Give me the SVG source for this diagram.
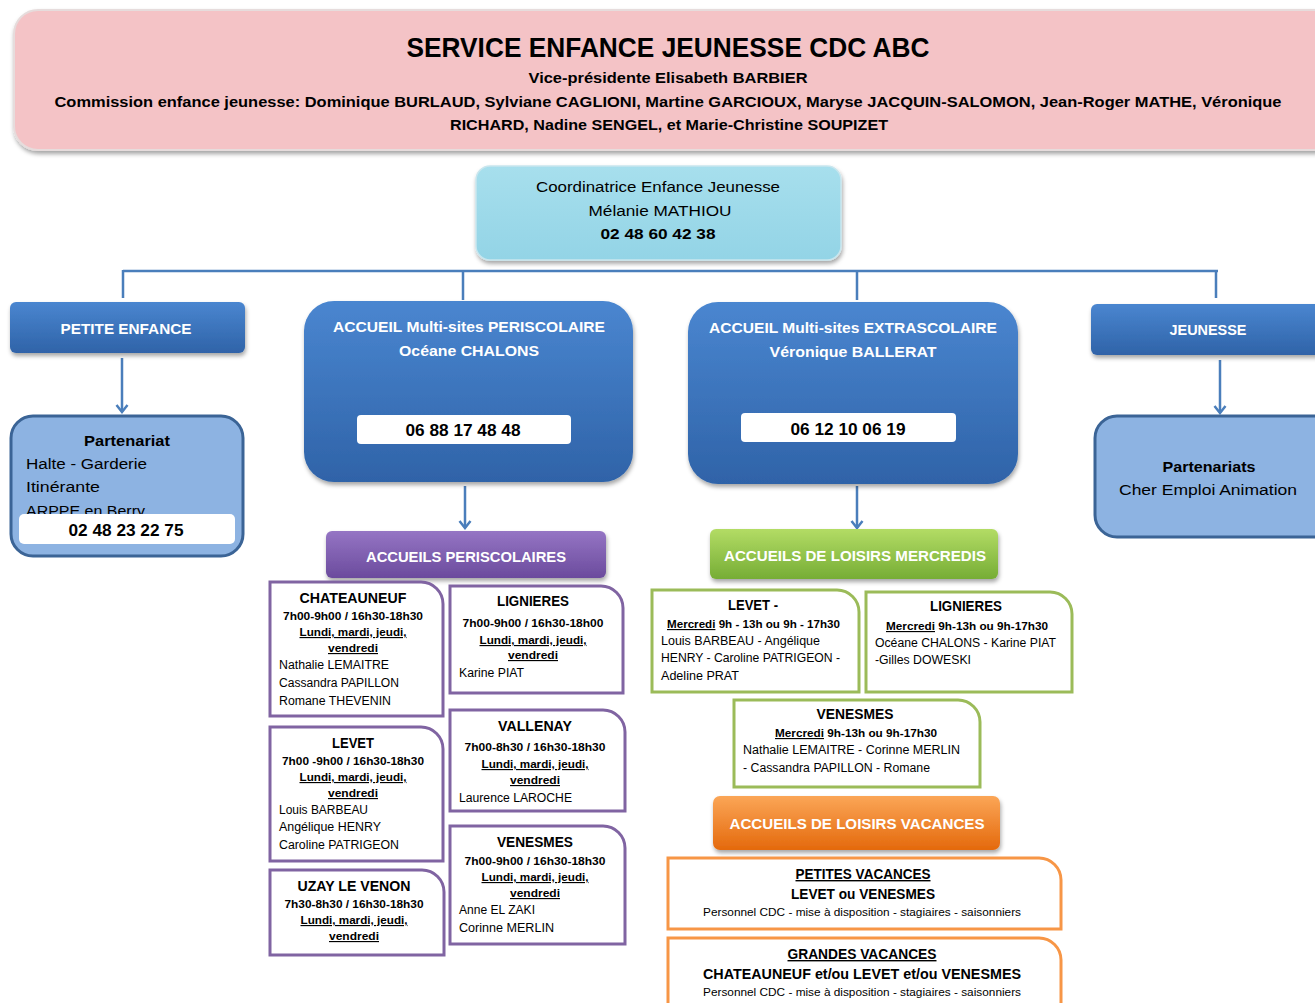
<svg xmlns="http://www.w3.org/2000/svg" width="1315" height="1003" viewBox="0 0 1315 1003">
<defs>
<style>
text{font-family:"Liberation Sans",Arial,sans-serif;fill:#000}
.b{font-weight:bold}
.w{fill:#fff;font-weight:bold}
.c{text-anchor:middle}
.u{text-decoration:underline}
.con{stroke:#4a7ebb;stroke-width:2.5;fill:none}
.pur{fill:#fff;stroke:#8064a2;stroke-width:3}
.grn{fill:#fff;stroke:#9bbb59;stroke-width:3}
.org{fill:#fff;stroke:#f79646;stroke-width:3}
.part{fill:#8db3e2;stroke:#3b6496;stroke-width:3}
.wb{fill:#fff}
</style>
<linearGradient id="gBlue" x1="0" y1="0" x2="0" y2="1">
<stop offset="0" stop-color="#4a86d0"/><stop offset="1" stop-color="#2f63a8"/>
</linearGradient>
<linearGradient id="gPur" x1="0" y1="0" x2="0" y2="1">
<stop offset="0" stop-color="#9575c4"/><stop offset="1" stop-color="#6b4b9d"/>
</linearGradient>
<linearGradient id="gGrn" x1="0" y1="0" x2="0" y2="1">
<stop offset="0" stop-color="#b3dc65"/><stop offset="1" stop-color="#76ad35"/>
</linearGradient>
<linearGradient id="gOrg" x1="0" y1="0" x2="0" y2="1">
<stop offset="0" stop-color="#fba657"/><stop offset="1" stop-color="#e4690c"/>
</linearGradient>
<linearGradient id="gCyan" x1="0" y1="0" x2="0" y2="1">
<stop offset="0" stop-color="#a7dfed"/><stop offset="1" stop-color="#93d4e6"/>
</linearGradient>
<filter id="sh" x="-10%" y="-10%" width="120%" height="130%">
<feDropShadow dx="1" dy="3" stdDeviation="2" flood-color="#000" flood-opacity="0.35"/>
</filter>
<marker id="ar" viewBox="0 0 12 14" refX="10" refY="7" markerWidth="12" markerHeight="14" markerUnits="userSpaceOnUse" orient="auto">
<path d="M3,1.5 L10,7 L3,12.5" fill="none" stroke="#4a7ebb" stroke-width="2.5"/>
</marker>
</defs>
<rect width="1315" height="1003" fill="#fff"/>

<g id="header">
<rect x="14" y="10" width="1330" height="140" rx="24" fill="#f4c3c6" stroke="#e6dcdc" stroke-width="2" filter="url(#sh)"/>
<text class="b c" x="668" y="57" font-size="28" textLength="523" lengthAdjust="spacingAndGlyphs">SERVICE ENFANCE JEUNESSE  CDC ABC</text>
<text class="b c" x="668" y="83" font-size="15.5" textLength="279" lengthAdjust="spacingAndGlyphs">Vice-présidente  Elisabeth  BARBIER</text>
<text class="b c" x="668" y="107" font-size="15.5" textLength="1227" lengthAdjust="spacingAndGlyphs">Commission  enfance jeunesse: Dominique  BURLAUD, Sylviane CAGLIONI, Martine  GARCIOUX, Maryse  JACQUIN-SALOMON, Jean-Roger  MATHE,  Véronique</text>
<text class="b c" x="669" y="130" font-size="15.5" textLength="438" lengthAdjust="spacingAndGlyphs">RICHARD, Nadine  SENGEL,  et  Marie-Christine  SOUPIZET</text>
</g>

<g id="connectors">
<path class="con" d="M123,271 H1218 M123,270 V298 M463,270 V300 M857,270 V300 M1216,270 V298"/>
<line class="con" x1="122" y1="358" x2="122" y2="412" marker-end="url(#ar)"/>
<line class="con" x1="1220" y1="360" x2="1220" y2="413" marker-end="url(#ar)"/>
<line class="con" x1="465" y1="486" x2="465" y2="528" marker-end="url(#ar)"/>
<line class="con" x1="857" y1="486" x2="857" y2="528" marker-end="url(#ar)"/>
</g>

<g id="coordinatrice">
<rect x="476" y="166" width="365" height="94" rx="14" fill="url(#gCyan)" stroke="#c9e6ee" stroke-width="1.5" filter="url(#sh)"/>
<text class="c" x="658" y="192" font-size="15.5" textLength="244" lengthAdjust="spacingAndGlyphs">Coordinatrice  Enfance Jeunesse</text>
<text class="c" x="660" y="216" font-size="15.5" textLength="143" lengthAdjust="spacingAndGlyphs">Mélanie MATHIOU</text>
<text class="b c" x="658" y="239" font-size="15.5" textLength="115" lengthAdjust="spacingAndGlyphs">02 48 60 42 38</text>
</g>

<g id="petite-enfance">
<rect x="10" y="302" width="235" height="51" rx="6" fill="url(#gBlue)" filter="url(#sh)"/>
<text class="w c" x="126" y="334" font-size="15" textLength="131" lengthAdjust="spacingAndGlyphs">PETITE  ENFANCE</text>
</g>

<g id="partenariat">
<rect class="part" x="11" y="416" width="232" height="140" rx="22"/>
<text class="b c" x="127" y="446" font-size="15.5" textLength="86" lengthAdjust="spacingAndGlyphs">Partenariat</text>
<text x="26" y="469" font-size="15.5" textLength="121" lengthAdjust="spacingAndGlyphs">Halte - Garderie</text>
<text x="26" y="492" font-size="15.5" textLength="74" lengthAdjust="spacingAndGlyphs">Itinérante</text>
<text x="26" y="516" font-size="15.5" textLength="119" lengthAdjust="spacingAndGlyphs">ARPPE en Berry</text>
<rect class="wb" x="19" y="514" width="216" height="30" rx="5"/>
<text class="b c" x="126" y="536" font-size="16" textLength="115" lengthAdjust="spacingAndGlyphs">02 48 23 22 75</text>
</g>

<g id="periscolaire">
<rect x="304" y="301" width="329" height="181" rx="30" fill="url(#gBlue)" filter="url(#sh)"/>
<text class="w c" x="469" y="332" font-size="15" textLength="272" lengthAdjust="spacingAndGlyphs">ACCUEIL Multi-sites  PERISCOLAIRE</text>
<text class="w c" x="469" y="356" font-size="15" textLength="140" lengthAdjust="spacingAndGlyphs">Océane  CHALONS</text>
<rect class="wb" x="357" y="415" width="214" height="29" rx="4"/>
<text class="b c" x="463" y="436" font-size="16" textLength="115" lengthAdjust="spacingAndGlyphs">06 88 17 48 48</text>
</g>

<g id="extrascolaire">
<rect x="688" y="302" width="330" height="182" rx="30" fill="url(#gBlue)" filter="url(#sh)"/>
<text class="w c" x="853" y="333" font-size="15" textLength="288" lengthAdjust="spacingAndGlyphs">ACCUEIL Multi-sites  EXTRASCOLAIRE</text>
<text class="w c" x="853" y="357" font-size="15" textLength="167" lengthAdjust="spacingAndGlyphs">Véronique  BALLERAT</text>
<rect class="wb" x="741" y="413" width="215" height="29" rx="4"/>
<text class="b c" x="848" y="435" font-size="16" textLength="115" lengthAdjust="spacingAndGlyphs">06 12 10 06 19</text>
</g>

<g id="jeunesse">
<rect x="1091" y="304" width="240" height="51" rx="6" fill="url(#gBlue)" filter="url(#sh)"/>
<text class="w c" x="1208" y="335" font-size="15" textLength="77" lengthAdjust="spacingAndGlyphs">JEUNESSE</text>
</g>

<g id="partenariats">
<rect class="part" x="1095" y="416" width="240" height="121" rx="22"/>
<text class="b c" x="1209" y="472" font-size="15.5" textLength="93" lengthAdjust="spacingAndGlyphs">Partenariats</text>
<text class="c" x="1208" y="495" font-size="15.5" textLength="178" lengthAdjust="spacingAndGlyphs">Cher Emploi Animation</text>
</g>

<g id="accueils-periscolaires">
<rect x="326" y="531" width="280" height="47" rx="6" fill="url(#gPur)" filter="url(#sh)"/>
<text class="w c" x="466" y="562" font-size="15" textLength="200" lengthAdjust="spacingAndGlyphs">ACCUEILS PERISCOLAIRES</text>
</g>

<g id="accueils-mercredis">
<rect x="710" y="529" width="288" height="50" rx="6" fill="url(#gGrn)" filter="url(#sh)"/>
<text class="w c" x="855" y="561" font-size="15" textLength="262" lengthAdjust="spacingAndGlyphs">ACCUEILS DE LOISIRS MERCREDIS</text>
</g>

<g id="peri-chateauneuf">
<path class="pur" d="M270,582 H421 A22,22 0 0 1 443,604 V716 H270 Z"/>
<text class="b c" x="353" y="603" font-size="14" textLength="107" lengthAdjust="spacingAndGlyphs">CHATEAUNEUF</text>
<text class="b c" x="353" y="620" font-size="11.5" textLength="140" lengthAdjust="spacingAndGlyphs">7h00-9h00  /  16h30-18h30</text>
<text class="b c u" x="353" y="636" font-size="11.5" textLength="107" lengthAdjust="spacingAndGlyphs">Lundi, mardi, jeudi,</text>
<text class="b c u" x="353" y="652" font-size="11.5" textLength="50" lengthAdjust="spacingAndGlyphs">vendredi</text>
<text x="279" y="669" font-size="12" textLength="110" lengthAdjust="spacingAndGlyphs">Nathalie LEMAITRE</text>
<text x="279" y="687" font-size="12" textLength="120" lengthAdjust="spacingAndGlyphs">Cassandra PAPILLON</text>
<text x="279" y="705" font-size="12" textLength="112" lengthAdjust="spacingAndGlyphs">Romane THEVENIN</text>
</g>

<g id="peri-lignieres">
<path class="pur" d="M450,586 H601 A22,22 0 0 1 623,608 V693 H450 Z"/>
<text class="b c" x="533" y="606" font-size="14" textLength="72" lengthAdjust="spacingAndGlyphs">LIGNIERES</text>
<text class="b c" x="533" y="627" font-size="11.5" textLength="141" lengthAdjust="spacingAndGlyphs">7h00-9h00  /  16h30-18h00</text>
<text class="b c u" x="533" y="644" font-size="11.5" textLength="107" lengthAdjust="spacingAndGlyphs">Lundi, mardi, jeudi,</text>
<text class="b c u" x="533" y="659" font-size="11.5" textLength="50" lengthAdjust="spacingAndGlyphs">vendredi</text>
<text x="459" y="677" font-size="12" textLength="65" lengthAdjust="spacingAndGlyphs">Karine PIAT</text>
</g>

<g id="peri-levet">
<path class="pur" d="M270,727 H421 A22,22 0 0 1 443,749 V861 H270 Z"/>
<text class="b c" x="353" y="748" font-size="14" textLength="42" lengthAdjust="spacingAndGlyphs">LEVET</text>
<text class="b c" x="353" y="765" font-size="11.5" textLength="142" lengthAdjust="spacingAndGlyphs">7h00 -9h00 / 16h30-18h30</text>
<text class="b c u" x="353" y="781" font-size="11.5" textLength="107" lengthAdjust="spacingAndGlyphs">Lundi, mardi, jeudi,</text>
<text class="b c u" x="353" y="797" font-size="11.5" textLength="50" lengthAdjust="spacingAndGlyphs">vendredi</text>
<text x="279" y="814" font-size="12" textLength="89" lengthAdjust="spacingAndGlyphs">Louis BARBEAU</text>
<text x="279" y="831" font-size="12" textLength="102" lengthAdjust="spacingAndGlyphs">Angélique HENRY</text>
<text x="279" y="849" font-size="12" textLength="120" lengthAdjust="spacingAndGlyphs">Caroline PATRIGEON</text>
</g>

<g id="peri-vallenay">
<path class="pur" d="M450,710 H603 A22,22 0 0 1 625,732 V811 H450 Z"/>
<text class="b c" x="535" y="731" font-size="14" textLength="74" lengthAdjust="spacingAndGlyphs">VALLENAY</text>
<text class="b c" x="535" y="751" font-size="11.5" textLength="141" lengthAdjust="spacingAndGlyphs">7h00-8h30  /  16h30-18h30</text>
<text class="b c u" x="535" y="768" font-size="11.5" textLength="107" lengthAdjust="spacingAndGlyphs">Lundi, mardi, jeudi,</text>
<text class="b c u" x="535" y="784" font-size="11.5" textLength="50" lengthAdjust="spacingAndGlyphs">vendredi</text>
<text x="459" y="802" font-size="12" textLength="113" lengthAdjust="spacingAndGlyphs">Laurence LAROCHE</text>
</g>

<g id="peri-uzay">
<path class="pur" d="M270,870 H422 A22,22 0 0 1 444,892 V955 H270 Z"/>
<text class="b c" x="354" y="891" font-size="14" textLength="113" lengthAdjust="spacingAndGlyphs">UZAY LE VENON</text>
<text class="b c" x="354" y="908" font-size="11.5" textLength="139" lengthAdjust="spacingAndGlyphs">7h30-8h30 / 16h30-18h30</text>
<text class="b c u" x="354" y="924" font-size="11.5" textLength="107" lengthAdjust="spacingAndGlyphs">Lundi, mardi, jeudi,</text>
<text class="b c u" x="354" y="940" font-size="11.5" textLength="50" lengthAdjust="spacingAndGlyphs">vendredi</text>
</g>

<g id="peri-venesmes">
<path class="pur" d="M450,826 H603 A22,22 0 0 1 625,848 V944 H450 Z"/>
<text class="b c" x="535" y="847" font-size="14" textLength="76" lengthAdjust="spacingAndGlyphs">VENESMES</text>
<text class="b c" x="535" y="865" font-size="11.5" textLength="141" lengthAdjust="spacingAndGlyphs">7h00-9h00  /  16h30-18h30</text>
<text class="b c u" x="535" y="881" font-size="11.5" textLength="107" lengthAdjust="spacingAndGlyphs">Lundi, mardi, jeudi,</text>
<text class="b c u" x="535" y="897" font-size="11.5" textLength="50" lengthAdjust="spacingAndGlyphs">vendredi</text>
<text x="459" y="914" font-size="12" textLength="76" lengthAdjust="spacingAndGlyphs">Anne EL ZAKI</text>
<text x="459" y="932" font-size="12" textLength="95" lengthAdjust="spacingAndGlyphs">Corinne MERLIN</text>
</g>

<g id="merc-levet">
<path class="grn" d="M652,590 H837 A22,22 0 0 1 859,612 V692 H652 Z"/>
<text class="b c" x="753" y="610" font-size="14" textLength="50" lengthAdjust="spacingAndGlyphs">LEVET -</text>
<text class="b" x="667" y="628" font-size="11.5" textLength="173" lengthAdjust="spacingAndGlyphs"><tspan class="u">Mercredi</tspan> 9h - 13h ou 9h - 17h30</text>
<text x="661" y="645" font-size="12" textLength="159" lengthAdjust="spacingAndGlyphs">Louis BARBEAU - Angélique</text>
<text x="661" y="662" font-size="12" textLength="179" lengthAdjust="spacingAndGlyphs">HENRY - Caroline PATRIGEON -</text>
<text x="661" y="680" font-size="12" textLength="78" lengthAdjust="spacingAndGlyphs">Adeline PRAT</text>
</g>

<g id="merc-lignieres">
<path class="grn" d="M866,592 H1050 A22,22 0 0 1 1072,614 V692 H866 Z"/>
<text class="b c" x="966" y="611" font-size="14" textLength="72" lengthAdjust="spacingAndGlyphs">LIGNIERES</text>
<text class="b" x="886" y="630" font-size="11.5" textLength="162" lengthAdjust="spacingAndGlyphs"><tspan class="u">Mercredi</tspan> 9h-13h ou 9h-17h30</text>
<text x="875" y="647" font-size="12" textLength="181" lengthAdjust="spacingAndGlyphs">Océane CHALONS - Karine PIAT</text>
<text x="875" y="664" font-size="12" textLength="96" lengthAdjust="spacingAndGlyphs">-Gilles DOWESKI</text>
</g>

<g id="merc-venesmes">
<path class="grn" d="M734,700 H958 A22,22 0 0 1 980,722 V787 H734 Z"/>
<text class="b c" x="855" y="719" font-size="14" textLength="77" lengthAdjust="spacingAndGlyphs">VENESMES</text>
<text class="b" x="775" y="737" font-size="11.5" textLength="162" lengthAdjust="spacingAndGlyphs"><tspan class="u">Mercredi</tspan> 9h-13h ou 9h-17h30</text>
<text x="743" y="754" font-size="12" textLength="217" lengthAdjust="spacingAndGlyphs">Nathalie LEMAITRE - Corinne  MERLIN</text>
<text x="743" y="772" font-size="12" textLength="187" lengthAdjust="spacingAndGlyphs">- Cassandra PAPILLON - Romane</text>
</g>

<g id="accueils-vacances">
<rect x="713" y="796" width="287" height="54" rx="7" fill="url(#gOrg)" filter="url(#sh)"/>
<text class="w c" x="857" y="829" font-size="15" textLength="255" lengthAdjust="spacingAndGlyphs">ACCUEILS DE LOISIRS VACANCES</text>
</g>

<g id="petites-vacances">
<path class="org" d="M668,858 H1039 A22,22 0 0 1 1061,880 V929 H668 Z"/>
<text class="b c u" x="863" y="879" font-size="14" textLength="135" lengthAdjust="spacingAndGlyphs">PETITES VACANCES</text>
<text class="b c" x="863" y="899" font-size="14" textLength="144" lengthAdjust="spacingAndGlyphs">LEVET ou VENESMES</text>
<text class="c" x="862" y="916" font-size="11.5" textLength="318" lengthAdjust="spacingAndGlyphs">Personnel CDC - mise à disposition - stagiaires - saisonniers</text>
</g>

<g id="grandes-vacances">
<path class="org" d="M668,938 H1039 A22,22 0 0 1 1061,960 V1010 H668 Z"/>
<text class="b c u" x="862" y="959" font-size="14" textLength="149" lengthAdjust="spacingAndGlyphs">GRANDES VACANCES</text>
<text class="b c" x="862" y="979" font-size="14" textLength="318" lengthAdjust="spacingAndGlyphs">CHATEAUNEUF et/ou LEVET et/ou VENESMES</text>
<text class="c" x="862" y="996" font-size="11.5" textLength="318" lengthAdjust="spacingAndGlyphs">Personnel CDC - mise à disposition - stagiaires - saisonniers</text>
</g>
</svg>
